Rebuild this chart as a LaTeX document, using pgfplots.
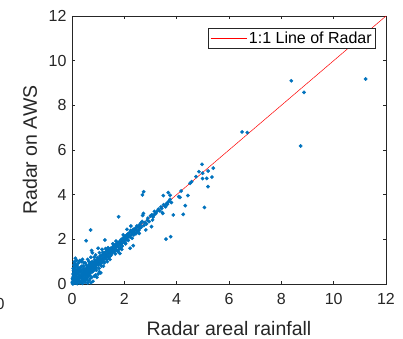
\documentclass[border=0pt]{standalone}
\usepackage{pgfplots}
\pgfplotsset{compat=1.18}
\usepackage{fontspec}
\setmainfont{Liberation Sans}
\definecolor{mblue}{RGB}{0,114,189}
\definecolor{axgray}{RGB}{38,38,38}
\begin{document}
\begin{tikzpicture}
\useasboundingbox (-72bp,-55bp) rectangle (331bp,284bp);
\begin{axis}[
  at={(0,0)}, anchor=south west,
  scale only axis, width=314bp, height=268bp,
  xmin=0, xmax=12, ymin=0, ymax=12,
  xtick={0,2,...,12}, ytick={0,2,...,12},
  tick align=inside, major tick length=3.5bp,
  xtick pos=both, ytick pos=both,
  axis line style={axgray, line width=0.5bp},
  every tick/.style={axgray, line width=0.5bp},
  /pgf/number format/assume math mode=true,
  ticklabel style={font=\fontsize{16bp}{19bp}\selectfont, text=axgray},
  x tick label style={yshift=-6bp},
  y tick label style={xshift=-2bp},
  xlabel={Radar areal rainfall},
  ylabel={Radar on AWS},
  label style={font=\fontsize{19.5bp}{23bp}\selectfont, text=axgray},
  xlabel style={at={(axis description cs:0.5,-0.1903)}, anchor=base},
  ylabel style={at={(axis description cs:-0.1115,0.5)}, anchor=base},
  legend style={at={(axis description cs:0.968,0.955)}, anchor=north east,
    draw=axgray, line width=0.5bp, font=\fontsize{16bp}{19bp}\selectfont,
    inner xsep=2bp, inner ysep=1.5bp},
  legend cell align=left,
  legend image code/.code={\draw[#1] (0bp,0bp) -- (36bp,0bp);},
  clip=true,
]
\addplot[only marks, mark=*, mark size=1.7bp, mblue, draw=none, forget plot] coordinates {
(0.02,0.01)(0.03,0.05)(0.05,0.02)(0.04,0.10)(0.06,0.15)(0.08,0.05)(0.07,0.22)(0.10,0.08)(0.09,0.30)(0.12,0.12)
(0.11,0.40)(0.13,0.18)(0.15,0.25)(0.14,0.05)(0.16,0.10)(0.17,0.35)(0.18,0.20)(0.20,0.15)(0.19,0.45)(0.21,0.28)
(0.22,0.10)(0.24,0.22)(0.25,0.30)(0.23,0.55)(0.26,0.18)(0.28,0.25)(0.27,0.40)(0.29,0.12)(0.30,0.32)(0.13,1.15)
(0.18,1.05)(0.10,0.75)(0.15,0.65)(0.20,0.85)(0.25,0.95)(0.12,0.55)(0.28,0.70)(0.05,0.35)(0.08,0.50)(0.03,0.20)
(0.01,0.08)(0.02,0.25)(0.06,0.60)(0.22,0.75)(0.30,0.60)(0.30,1.05)(0.35,1.00)(0.40,1.10)(0.45,0.95)(0.38,0.80)
(0.42,0.65)(0.04,0.45)(0.07,0.85)(0.09,1.00)(0.05,0.70)
(0.20,0.02)(0.30,0.05)(0.35,0.10)(0.40,0.03)(0.45,0.15)(0.50,0.08)(0.55,0.20)(0.60,0.05)(0.65,0.15)(0.70,0.25)
(0.73,0.06)(0.75,0.30)(0.80,0.12)(0.85,0.35)(0.90,0.40)(0.95,0.30)(1.00,0.45)(1.05,0.55)(1.10,0.50)(0.62,0.35)
(0.58,0.28)(0.52,0.30)(0.48,0.25)(0.44,0.35)
(0.32,0.30)(0.35,0.40)(0.36,0.28)(0.38,0.45)(0.40,0.35)(0.42,0.50)(0.44,0.42)(0.46,0.55)(0.48,0.48)(0.50,0.40)
(0.50,0.60)(0.52,0.52)(0.54,0.65)(0.55,0.48)(0.57,0.58)(0.58,0.70)(0.60,0.55)(0.60,0.75)(0.62,0.62)(0.64,0.80)
(0.65,0.55)(0.66,0.68)(0.68,0.85)(0.70,0.65)(0.70,0.78)(0.72,0.72)(0.74,0.90)(0.75,0.62)(0.76,0.80)(0.78,0.70)
(0.80,0.88)(0.80,0.75)(0.82,0.95)(0.84,0.80)(0.85,0.70)(0.86,0.90)(0.88,1.00)(0.90,0.82)(0.90,0.95)(0.92,0.75)
(0.94,1.05)(0.95,0.88)(0.96,0.98)(0.98,1.10)(1.00,0.92)(1.00,1.02)(0.55,0.85)(0.65,1.00)(0.72,1.20)(0.75,1.50)
(0.78,1.40)(0.60,1.10)(0.50,0.95)(0.45,0.80)(0.70,0.95)(0.85,1.20)
(0.34,0.55)(0.40,0.20)(0.46,0.68)(0.52,0.18)(0.56,0.72)(0.63,0.45)(0.67,0.90)(0.71,0.50)(0.77,1.00)(0.82,0.60)
(0.87,1.08)(0.93,0.62)(0.97,1.18)(1.03,0.70)(1.07,1.25)(1.13,0.80)(0.58,0.40)(0.68,0.40)(0.78,0.55)(0.88,0.65)
(0.16,0.50)(0.24,0.65)(0.33,0.75)(0.10,0.20)(0.19,0.62)(0.26,0.50)(0.36,0.62)(0.15,0.82)(0.08,0.40)(0.12,0.92)
(1.02,0.85)(1.04,1.08)(1.05,0.95)(1.06,1.15)(1.08,1.00)(1.10,1.25)(1.10,0.90)(1.12,1.10)(1.14,1.05)(1.15,1.30)
(1.16,0.98)(1.18,1.18)(1.20,1.12)(1.20,1.35)(1.22,1.02)(1.24,1.25)(1.25,1.40)(1.26,1.15)(1.28,1.30)(1.30,1.20)
(1.30,1.45)(1.32,1.10)(1.34,1.35)(1.35,1.25)(1.36,1.50)(1.38,1.30)(1.40,1.42)(1.40,1.18)(1.42,1.55)(1.44,1.38)
(1.45,1.48)(1.46,1.25)(1.48,1.60)(1.50,1.45)(1.50,1.30)(1.26,1.97)(1.15,1.55)(1.05,1.40)(1.20,0.80)(1.35,1.00)
(1.45,1.10)(1.18,1.42)(1.28,1.58)(1.38,1.62)(1.24,0.95)(1.33,1.52)
(1.52,1.55)(1.54,1.40)(1.55,1.65)(1.58,1.50)(1.60,1.58)(1.60,1.70)(1.62,1.45)(1.64,1.62)(1.65,1.75)(1.68,1.55)
(1.70,1.68)(1.70,1.80)(1.72,1.50)(1.74,1.72)(1.75,1.85)(1.78,1.65)(1.80,1.78)(1.80,1.55)(1.82,1.90)(1.84,1.75)
(1.85,1.62)(1.86,1.85)(1.88,2.00)(1.90,1.80)(1.92,1.70)(1.94,1.95)(1.95,2.05)(1.98,1.88)(2.00,2.10)(2.00,1.95)
(1.78,3.01)(1.83,1.37)(1.65,1.35)(1.90,1.55)(1.56,1.80)(1.68,1.92)(1.76,1.45)(1.96,2.20)
(2.02,1.85)(2.04,2.05)(2.06,2.15)(2.08,1.98)(2.10,2.20)(2.12,2.08)(2.14,2.25)(2.15,1.95)(2.18,2.15)(2.20,2.30)
(2.22,2.10)(2.22,1.60)(2.24,2.40)(2.26,2.20)(2.28,2.35)(2.30,2.05)(2.32,2.28)(2.34,2.45)(2.34,1.72)(2.36,2.20)
(2.38,2.40)(2.40,2.30)(2.42,2.50)(2.44,2.25)(2.46,2.42)(2.48,2.60)(2.50,2.35)(2.52,2.55)(2.55,2.40)(2.57,2.27)
(2.58,2.65)(2.60,2.50)(2.62,2.72)(2.10,2.45)(2.25,2.60)(2.05,1.80)
(2.65,2.55)(2.68,2.80)(2.69,3.99)(2.70,3.07)(2.73,3.16)(2.74,4.13)(2.75,2.62)(2.78,2.75)(2.82,2.42)(2.85,2.69)
(2.88,2.85)(2.90,2.95)(2.95,2.80)(3.00,3.05)(3.04,2.57)(3.05,3.10)(3.08,2.87)(3.10,3.00)(3.13,3.09)(3.15,3.25)
(3.20,3.15)(3.24,3.24)(3.30,3.35)(3.35,3.28)(3.40,3.45)(3.43,3.39)(3.45,3.20)(3.47,3.16)(3.49,3.96)(3.50,3.55)
(3.55,3.50)(3.58,3.46)(3.59,2.01)(3.62,3.61)(3.65,3.58)(3.68,4.09)(3.70,3.70)(3.75,3.79)(3.75,3.97)(3.77,2.12)
(3.80,3.65)(3.87,3.09)
(4.08,3.91)(4.13,3.88)(4.17,4.16)(4.25,3.12)(4.33,3.51)(4.43,3.96)(4.51,4.51)(4.57,4.58)(4.74,4.81)(4.85,5.03)
(4.97,5.36)(4.99,4.96)(4.99,4.72)(5.06,3.43)(5.15,4.73)(5.20,5.06)(5.20,4.36)(5.35,4.79)(5.40,5.19)
(6.50,6.81)(6.70,6.78)(8.38,9.10)(8.87,8.58)(8.74,6.18)(11.22,9.18)
(0.71,2.42)(0.54,1.94)(1.00,1.60)(0.90,1.30)
};
\addplot[red, line width=0.5bp] coordinates {(0,0) (12,12)};
\addlegendentry{1:1 Line of Radar}
\end{axis}
\node[font=\fontsize{16bp}{19bp}\selectfont, text=axgray, anchor=base] at (-72bp,-25bp) {0};
\end{tikzpicture}
\end{document}
